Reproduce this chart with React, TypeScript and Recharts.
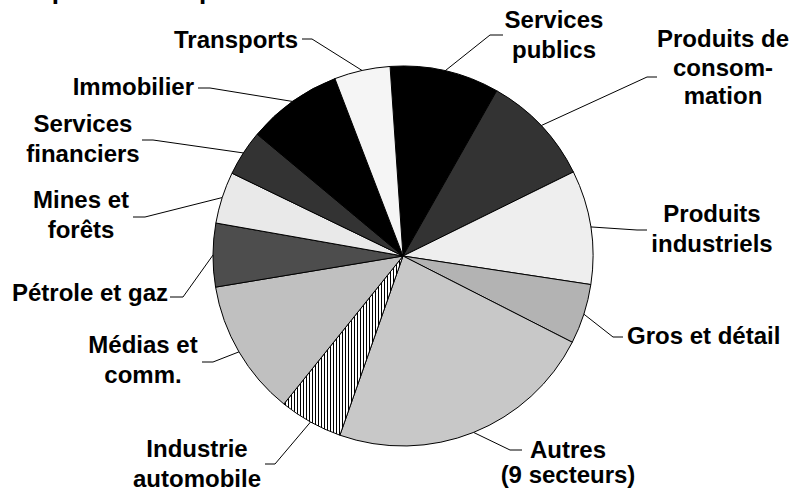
import { PieChart, Pie, Cell } from "recharts";

// sector weights (percent of total)
const sectors = [
  "Services publics",
  "Produits de consommation",
  "Produits industriels",
  "Gros et détail",
  "Autres (9 secteurs)",
  "Industrie automobile",
  "Médias et comm.",
  "Pétrole et gaz",
  "Mines et forêts",
  "Services financiers",
  "Immobilier",
  "Transports",
];
const shares = [9.3, 9.5, 9.7, 5.1, 22.9, 5.4, 11.6, 5.4, 4.4, 3.9, 8.1, 4.75];

// label text, broken the way the original breaks it
const labelText = [
  ["Services", "publics"],
  ["Produits de", "consom-", "mation"],
  ["Produits", "industriels"],
  ["Gros et détail"],
  ["Autres", "(9 secteurs)"],
  ["Industrie", "automobile"],
  ["Médias et", "comm."],
  ["Pétrole et gaz"],
  ["Mines et", "forêts"],
  ["Services", "financiers"],
  ["Immobilier"],
  ["Transports"],
];

const fills = [
  "#000000",
  "#333333",
  "#eeeeee",
  "#b3b3b3",
  "#c8c8c8",
  "url(#hatch)",
  "#c0c0c0",
  "#4d4d4d",
  "#e9e9e9",
  "#333333",
  "#000000",
  "#f5f5f5",
];

// where each label sits and how its leader bends
const labelPos = [
  { x: 554, y: 28, lh: 30, anchor: "middle", elbow: [490, 35], end: [503, 35] },
  { x: 723, y: 47, lh: 28.5, anchor: "middle", elbow: [647, 77], end: [657, 77] },
  { x: 712, y: 222, lh: 30, anchor: "middle", elbow: [637, 230], end: [647, 230] },
  { x: 627, y: 344, lh: 30, anchor: "start", elbow: [613, 337], end: [623, 337] },
  { x: 568, y: 458, lh: 25, anchor: "middle", elbow: [510, 450], end: [522, 450] },
  { x: 197, y: 457, lh: 30, anchor: "middle", elbow: [275, 464], end: [265, 464] },
  { x: 143, y: 353, lh: 30, anchor: "middle", elbow: [213, 362], end: [202, 362] },
  { x: 168, y: 301, lh: 30, anchor: "end", elbow: [183, 297], end: [170, 297] },
  { x: 81, y: 208, lh: 30, anchor: "middle", elbow: [145, 217], end: [133, 217] },
  { x: 83, y: 132, lh: 30, anchor: "middle", elbow: [153, 140], end: [142, 140] },
  { x: 194, y: 95, lh: 30, anchor: "end", elbow: [210, 88], end: [198, 88] },
  { x: 298, y: 48, lh: 30, anchor: "end", elbow: [312, 39], end: [302, 39] },
];

const data = sectors.map((name, i) => ({ name, value: shares[i] }));

const RAD = Math.PI / 180;
const FONT = "'Liberation Sans', Arial, sans-serif";

const renderLabel = (props: any) => {
  const { cx, cy, midAngle, outerRadius, index } = props;
  const p = labelPos[index];
  const sx = cx + outerRadius * Math.cos(-midAngle * RAD);
  const sy = cy + outerRadius * Math.sin(-midAngle * RAD);
  const lines = labelText[index];
  return (
    <g key={`lbl-${index}`}>
      <polyline
        points={`${sx},${sy} ${p.elbow[0]},${p.elbow[1]} ${p.end[0]},${p.end[1]}`}
        fill="none"
        stroke="#000"
        strokeWidth={1}
      />
      <text
        x={p.x}
        y={p.y}
        textAnchor={p.anchor as any}
        fontFamily={FONT}
        fontWeight="bold"
        fontSize={24}
        fill="#000"
      >
        {lines.map((t, j) => (
          <tspan key={j} x={p.x} dy={j === 0 ? 0 : p.lh}>
            {t}
          </tspan>
        ))}
      </text>
    </g>
  );
};

const START = 93.9;

export default function App() {
  return (
    <div style={{ position: "absolute", left: 0, top: 0, width: 801, height: 493, background: "#fff" }}>
      <svg width={0} height={0} style={{ position: "absolute" }}>
        <defs>
          <pattern id="hatch" width={3} height={10} patternUnits="userSpaceOnUse">
            <rect width={3} height={10} fill="#fff" />
            <rect width={1} height={10} fill="#000" />
          </pattern>
        </defs>
      </svg>
      <PieChart width={801} height={493} margin={{ top: 0, right: 0, bottom: 0, left: 0 }}>
        <text x={-6} y={-1} fontFamily={FONT} fontWeight="bold" fontSize={26} fill="#000">
          Composition du portefeuille
        </text>
        <Pie
          data={data}
          dataKey="value"
          nameKey="name"
          cx={403}
          cy={256}
          outerRadius={190}
          startAngle={START}
          endAngle={START - 360}
          stroke="#000"
          strokeWidth={1}
          label={renderLabel}
          labelLine={false}
          isAnimationActive={false}
        >
          {data.map((d, i) => (
            <Cell key={d.name} fill={fills[i]} />
          ))}
        </Pie>
      </PieChart>
    </div>
  );
}
